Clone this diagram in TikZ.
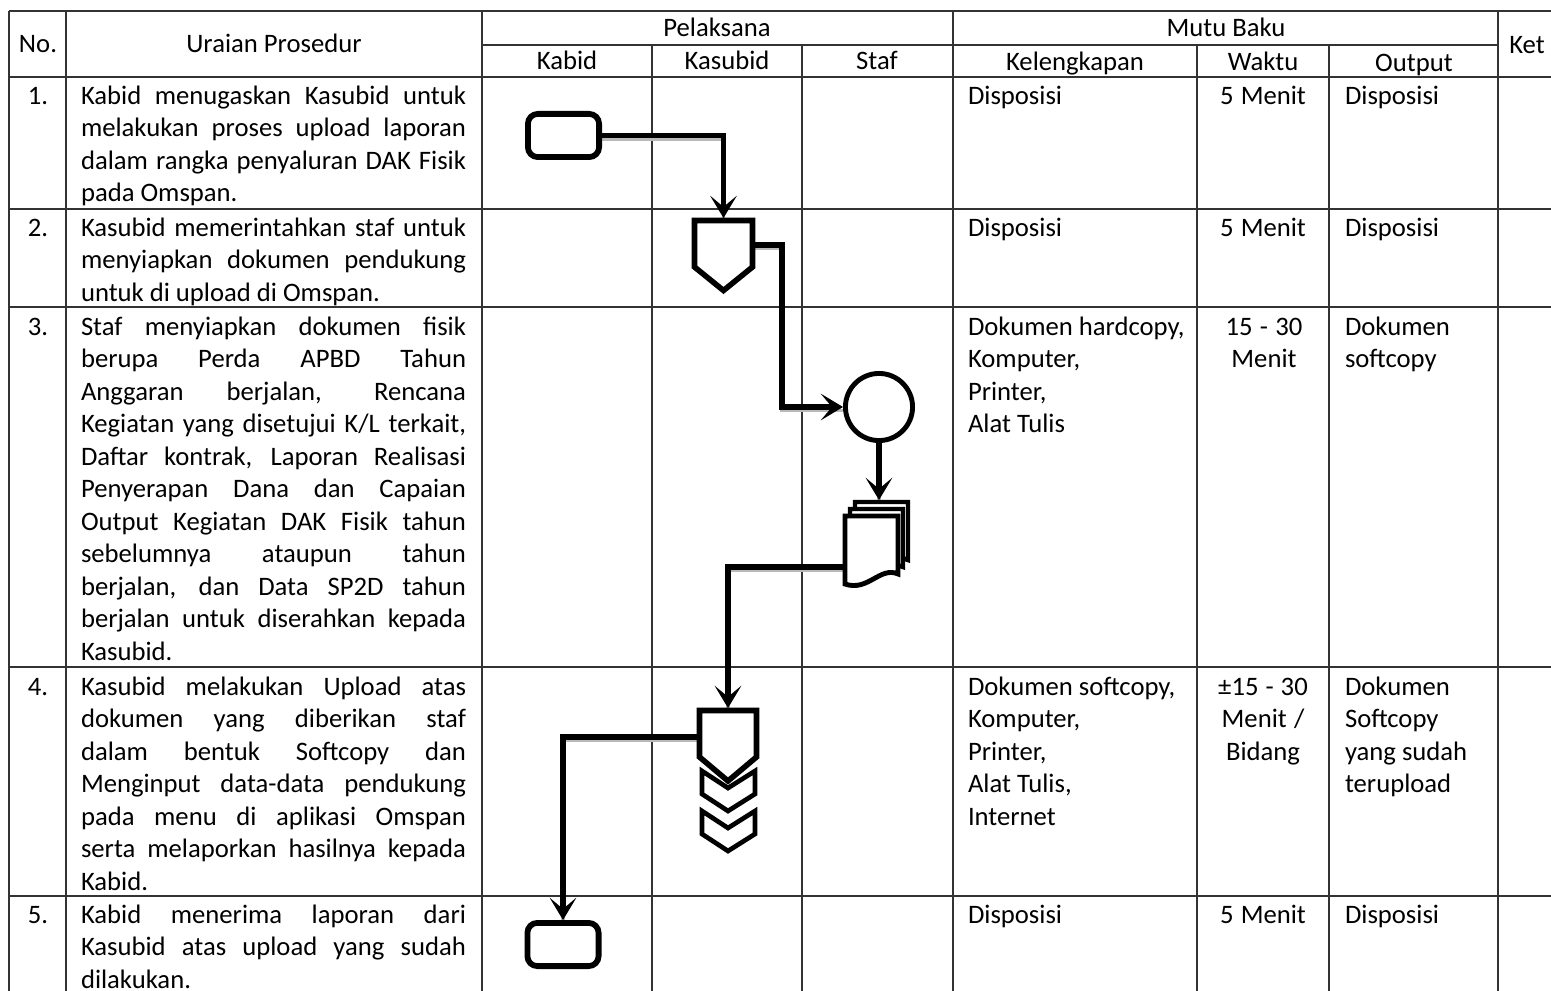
\documentclass[tikz,border=0pt]{standalone}
\usepackage{fontspec}
\setmainfont{Carlito}
\usetikzlibrary{arrows.meta,calc}
\pgfdeclarelayer{bg}
\pgfsetlayers{bg,main}
\newcommand\jline[1]{\makebox[173.25pt][s]{\spaceskip=0pt\xspaceskip=0pt\relax #1}}
\begin{document}
\begin{tikzpicture}[x=0.45pt,y=-0.45pt,
  gridline/.style={line width=0.7pt,black!80},
  fnt/.style={font=\fontsize{12}{14.625}\selectfont,execute at begin node={\spaceskip=0pt\xspaceskip=0pt\relax}},
  desc/.style={fnt,anchor=base west,inner sep=0,outer sep=0,text width=173.25pt,align=left},
  lefttxt/.style={fnt,anchor=base west,inner sep=0,outer sep=0,text width=100pt,align=left},
  ctrtxt/.style={fnt,anchor=base,inner sep=0,outer sep=0,text width=56pt,align=center},
  hd/.style={fnt,anchor=base,inner sep=0},
  holder/.style={inner sep=0,outer sep=0,draw=none},
  outl/.style={line width=2.5pt,draw=black,fill=white,line join=miter},
  term/.style={draw=black,fill=white,line width=2.6pt,rounded corners=4.5pt,minimum width=32.05pt,minimum height=19.45pt,inner sep=0},
  conn/.style={line width=2.3pt,-{Stealth[length=10pt,width=12pt,inset=5pt]},
     preaction={draw=gray!55,-,line width=1.5pt,transform canvas={yshift=-1.7pt}}},
]
\useasboundingbox (0,0) rectangle (1551,991);

% ---------- shapes ----------
\node[term] (s1) at (563.5,135.5) {};
\node[holder,minimum width=28.35pt,minimum height=33.75pt] (p1) at (723.5,255.5) {};
\draw[outl] (694.5,220.5) -- (752.5,220.5) -- (752.5,267) -- (723.5,290.5) -- (694.5,267) -- cycle;
\node[circle,draw=black,fill=white,line width=2.2pt,minimum size=30.2pt,inner sep=0] (c1) at (879,407) {};
\node[holder,minimum width=30.15pt,minimum height=39.15pt] (d1) at (876.5,543.5) {};
\draw[outl,line width=2pt] (855,502) -- (908,502) -- (908,560) .. controls (890,552) and (878,578) .. (855,570) -- cycle;
\draw[outl,line width=2pt] (850,509) -- (903,509) -- (903,567) .. controls (885,559) and (873,585) .. (850,577) -- cycle;
\draw[outl,line width=2.2pt] (845,516) -- (898,516) -- (898,574) .. controls (880,566) and (868,592) .. (845,584) -- cycle;
\node[holder,minimum width=27.9pt,minimum height=64.8pt] (ch1) at (728,780) {};
\draw[outl] (699.5,710.5) -- (756.5,710.5) -- (756.5,757) -- (728,781) -- (699.5,757) -- cycle;
\draw[outl,line width=2.1pt] (702,771) -- (728,788) -- (755,771) -- (755,794) -- (728,811) -- (702,794) -- cycle;
\draw[outl,line width=2.1pt] (702,811) -- (728,828) -- (755,811) -- (755,834) -- (728,851) -- (702,834) -- cycle;
\node[term] (s2) at (563,944.5) {};

% ---------- table grid and connectors ----------
\begin{pgfonlayer}{bg}
\draw[gridline] (9,11) -- (1551,11);
\draw[gridline] (482,45) -- (1498,45);
\draw[gridline] (9,77) -- (1551,77);
\draw[gridline] (9,209) -- (1551,209);
\draw[gridline] (9,307) -- (1551,307);
\draw[gridline] (9,667) -- (1551,667);
\draw[gridline] (9,896) -- (1551,896);
\foreach \x in {9,66,482,953,1498} \draw[gridline] (\x,11) -- (\x,991);
\foreach \x in {652,802,1197,1329} \draw[gridline] (\x,45) -- (\x,991);

\draw[conn] (s1.east) -| (p1.north);
\draw[conn] ($(p1.north east)+(0,27)$) -| ($(c1.west)+(-61,0)$) -- (c1.west);
\draw[conn] (c1.south) -- (c1.south |- d1.north);
\draw[conn] ($(d1.south west)+(0,-20)$) -| (ch1.north);
\draw[conn] ($(ch1.north west)+(0,29)$) -| (s2.north);
\end{pgfonlayer}

% ---------- header ----------
\node[hd] (hno) at (38,53) {No.};
\node[hd] (hur) at (274,53) {Uraian Prosedur};
\node[hd] (hpel) at (717,37) {Pelaksana};
\node[hd] (hkab) at (567,70) {Kabid};
\node[hd] (hkas) at (727,70) {Kasubid};
\node[hd] (hsta) at (877,70) {Staf};
\node[hd] (hmut) at (1226,37) {Mutu Baku};
\node[hd] (hkel) at (1075,71) {Kelengkapan};
\node[hd] (hwak) at (1263,71) {Waktu};
\node[hd] (hout) at (1414,72) {Output};
\node[hd] (hket) at (1527,54) {Ket};

% ---------- row 1 ----------
\node[hd] (n1) at (38,104.5) {1.};
\node[desc] (u1) at (81,104.5) {\jline{Kabid menugaskan Kasubid untuk}\\\jline{melakukan proses upload laporan}\\\jline{dalam rangka penyaluran DAK Fisik}\\pada Omspan.};
\node[lefttxt] (k1) at (968,104.5) {Disposisi};
\node[ctrtxt] (w1) at (1263,104.5) {5 Menit};
\node[lefttxt] (o1) at (1345,104.5) {Disposisi};

% ---------- row 2 ----------
\node[hd] (n2) at (38,236) {2.};
\node[desc] (u2) at (81,236) {\jline{Kasubid memerintahkan staf untuk}\\\jline{menyiapkan dokumen pendukung}\\untuk di upload di Omspan.};
\node[lefttxt] (k2) at (968,236) {Disposisi};
\node[ctrtxt] (w2) at (1263,236) {5 Menit};
\node[lefttxt] (o2) at (1345,236) {Disposisi};

% ---------- row 3 ----------
\node[hd] (n3) at (38,335) {3.};
\node[desc] (u3) at (81,335) {\jline{Staf menyiapkan dokumen fisik}\\\jline{berupa Perda APBD Tahun}\\\jline{Anggaran berjalan, Rencana}\\\jline{Kegiatan yang disetujui K/L terkait,}\\\jline{Daftar kontrak, Laporan Realisasi}\\\jline{Penyerapan Dana dan Capaian}\\\jline{Output Kegiatan DAK Fisik tahun}\\\jline{sebelumnya ataupun tahun}\\\jline{berjalan, dan Data SP2D tahun}\\\jline{berjalan untuk diserahkan kepada}\\Kasubid.};
\node[lefttxt] (k3) at (968,335) {Dokumen hardcopy,\\Komputer,\\Printer,\\Alat Tulis};
\node[ctrtxt] (w3) at (1264,335) {15 - 30\\Menit};
\node[lefttxt] (o3) at (1345,335) {Dokumen\\softcopy};

% ---------- row 4 ----------
\node[hd] (n4) at (38,695) {4.};
\node[desc] (u4) at (81,695) {\jline{Kasubid melakukan Upload atas}\\\jline{dokumen yang diberikan staf}\\\jline{dalam bentuk Softcopy dan}\\\jline{Menginput data-data pendukung}\\\jline{pada menu di aplikasi Omspan}\\\jline{serta melaporkan hasilnya kepada}\\Kabid.};
\node[lefttxt] (k4) at (968,695) {Dokumen softcopy,\\Komputer,\\Printer,\\Alat Tulis,\\Internet};
\node[ctrtxt] (w4) at (1263,695) {±15 - 30\\Menit /\\Bidang};
\node[lefttxt] (o4) at (1345,695) {Dokumen\\Softcopy\\yang sudah\\terupload};

% ---------- row 5 ----------
\node[hd] (n5) at (38,923) {5.};
\node[desc] (u5) at (81,923) {\jline{Kabid menerima laporan dari}\\\jline{Kasubid atas upload yang sudah}\\dilakukan.};
\node[lefttxt] (k5) at (968,923) {Disposisi};
\node[ctrtxt] (w5) at (1263,923) {5 Menit};
\node[lefttxt] (o5) at (1345,923) {Disposisi};
\end{tikzpicture}
\end{document}
